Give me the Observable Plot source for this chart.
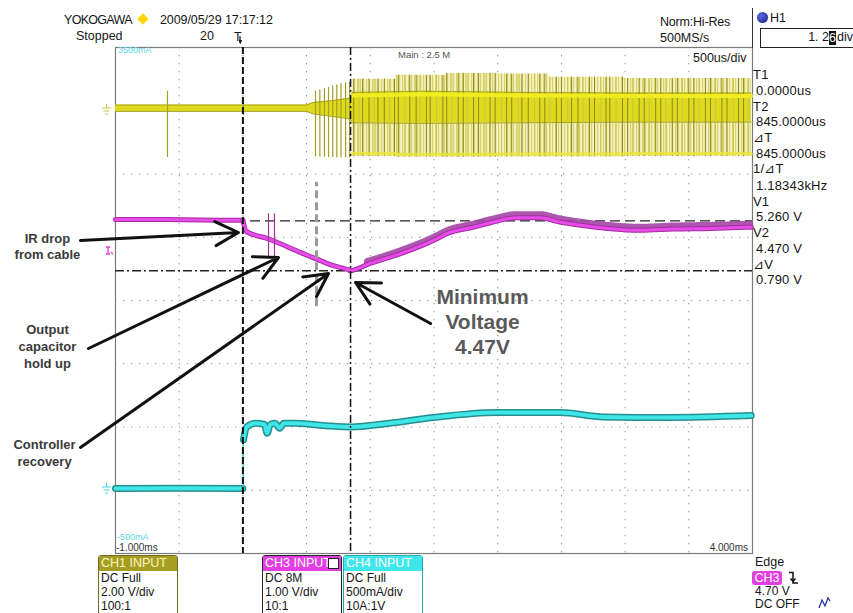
<!DOCTYPE html>
<html><head><meta charset="utf-8">
<script src="https://cdn.jsdelivr.net/npm/d3@7"></script>
<script src="https://cdn.jsdelivr.net/npm/@observablehq/plot@0.6"></script>
<style>
body{margin:0;background:#fff;font-family:"Liberation Sans",Arial,sans-serif;}
#wrap{position:relative;width:853px;height:613px;overflow:hidden;background:#fff;}
#wrap svg{position:absolute;left:0;top:0;}
.t{position:absolute;white-space:nowrap;line-height:1;color:#151515;font-size:12.5px;}
.box{position:absolute;border:1px solid #333;border-radius:3px;overflow:hidden;background:#fff;}
.box .hd{height:15px;line-height:15px;font-size:12.5px;padding-left:2px;color:#fff;position:relative;}
.box .ln{font-size:12px;line-height:14px;padding-left:2px;color:#151515;}
</style></head><body><div id="wrap"></div>
<script>
// ---------- data (time in ms, CH1/CH3 in volts, CH4 in amps) ----------
const gridTimes = [-0.5, 0, 0.5, 1, 1.5, 2, 2.5, 3, 3.5];
const gridDivs = [1, 2, 3, 4, 5, 6, 7];

// CH3 (magenta) output voltage, 1 V/div
const ch3PreTime = [-1.00, -0.60, -0.20, 0.00];
const ch3PreVolt = [5.28, 5.28, 5.27, 5.27];
const ch3Time = [0.00, 0.028, 0.193, 0.452, 0.609, 0.711, 0.821, 0.845, 0.868, 0.978, 1.237, 1.496, 1.606, 1.810, 1.943, 2.155, 2.336, 2.469, 2.650, 2.862, 3.121, 3.380, 3.670, 3.990];
const ch3Volt = [5.27, 5.09, 4.98, 4.76, 4.63, 4.55, 4.49, 4.47, 4.48, 4.57, 4.74, 4.95, 5.06, 5.16, 5.23, 5.31, 5.31, 5.25, 5.19, 5.14, 5.11, 5.13, 5.14, 5.16];
const ch3GlitchTime = [0.201, 0.248];
const ch3GlitchLo = 4.68, ch3GlitchHi = 5.37;

// CH4 (cyan) load current, 500 mA/div
const ch4PreTime = [-1.00, -0.50, 0.00];
const ch4PreAmp = [0.014, 0.016, 0.014];
const ch4Time = [0.005, 0.03, 0.10, 0.17, 0.19, 0.215, 0.25, 0.29, 0.32, 0.40, 0.65, 0.85, 1.15, 1.49, 1.99, 2.49, 2.83, 3.33, 3.99];
const ch4Amp = [0.40, 0.50, 0.53, 0.52, 0.45, 0.52, 0.53, 0.49, 0.53, 0.53, 0.51, 0.50, 0.53, 0.575, 0.615, 0.615, 0.58, 0.575, 0.59];

// CH1 (yellow) switching trace, 2 V/div: core band
const ch1BandTime = [-1.00, 0.50, 0.55, 0.70, 0.84, 0.86, 1.40, 2.20, 3.00, 3.99];
const ch1BandLo = [-0.02, -0.02, -0.10, -0.18, -0.26, -0.38, -0.40, -0.38, -0.36, -0.36];
const ch1BandHi = [0.18, 0.18, 0.26, 0.32, 0.40, 0.58, 0.62, 0.58, 0.56, 0.56];
// CH1 switching envelope (spike extents)
const ch1EnvTime = [0.86, 1.20, 1.60, 2.00, 2.40, 3.00, 3.99];
const ch1EnvHi = [1.00, 1.12, 1.18, 1.16, 1.06, 1.02, 1.02];
const ch1EnvLo = [-1.45, -1.47, -1.47, -1.46, -1.46, -1.45, -1.46];
// individual spikes
const ch1EarlySpikeTime = [-0.592, 0.005, 0.570, 0.604, 0.640, 0.672, 0.705, 0.737, 0.770, 0.806, 0.838];
const ch1EarlySpikeHi = [0.62, 0.35, 0.62, 0.66, 0.70, 0.74, 0.78, 0.82, 0.86, 0.88, 0.90];
const ch1EarlySpikeLo = [-1.48, -0.15, -1.45, -1.46, -1.47, -1.48, -1.48, -1.49, -1.49, -1.49, -1.50];
const ch1SpikeTime = [0.87, 0.91, 0.94, 0.99, 1.03, 1.06, 1.11, 1.15, 1.19, 1.22, 1.27, 1.31, 1.36, 1.39, 1.44, 1.47, 1.52, 1.57, 1.60, 1.64, 1.69, 1.73, 1.76, 1.81, 1.85, 1.90, 1.94, 1.98, 2.03, 2.07, 2.11, 2.16, 2.19, 2.24, 2.29, 2.33, 2.37, 2.41, 2.46, 2.50, 2.55, 2.58, 2.63, 2.67, 2.72, 2.76, 2.81, 2.85, 2.88, 2.93, 2.98, 3.02, 3.06, 3.11, 3.15, 3.19, 3.24, 3.28, 3.32, 3.37, 3.41, 3.45, 3.50, 3.54, 3.58, 3.63, 3.67, 3.71, 3.76, 3.80, 3.85, 3.89, 3.93, 3.97];

// cursors
const cursorT1 = 0, cursorT2 = 0.845;        // ms
const cursorV1 = 5.26, cursorV2 = 4.47;      // V (CH3)
const zoomMarker = {t: 0.578, lo: 3.90, hi: 5.87}; // divisions

// annotations (time ms, divisions)
const notes = [
  {t: -1.534, d: 4.87, text: "IR drop\nfrom cable", size: 13, lh: 1.25, color: "#3a3a3a"},
  {t: -1.534, d: 3.29, text: "Output\ncapacitor\nhold up", size: 13, lh: 1.3, color: "#3a3a3a"},
  {t: -1.557, d: 1.61, text: "Controller\nrecovery", size: 13, lh: 1.3, color: "#3a3a3a"},
  {t: 1.881, d: 3.68, text: "Minimum\nVoltage\n4.47V", size: 21, lh: 1.2, color: "#5a5a5a"}
];
const arrows = [
  {t1: -1.275, d1: 4.949, t2: -0.035, d2: 5.075},
  {t1: -1.212, d1: 3.241, t2: 0.279, d2: 4.680},
  {t1: -1.275, d1: 1.676, t2: 0.672, d2: 4.427},
  {t1: 1.473, d1: 3.636, t2: 0.884, d2: 4.285}
];

// ---------- channel -> screen divisions ----------
const div1 = v => v / 2 + 7;      // CH1: 2 V/div, ground at div 7
const div3 = v => v / 1;          // CH3: 1 V/div, ground at div 0
const div4 = a => a / 0.5 + 1;    // CH4: 500 mA/div, ground at div 1

const ch3Pre = ch3PreTime.map((t, i) => ({t, d: div3(ch3PreVolt[i])}));
const ch3 = ch3Time.map((t, i) => ({t, d: div3(ch3Volt[i])}));
const ch3Ripple = ch3.filter(p => p.t >= 0.87);
const ch4Pre = ch4PreTime.map((t, i) => ({t, d: div4(ch4PreAmp[i])}));
const ch4 = ch4Time.map((t, i) => ({t, d: div4(ch4Amp[i])}));
const ch1Band = ch1BandTime.map((t, i) => ({t, lo: div1(ch1BandLo[i]), hi: div1(ch1BandHi[i])}));
const ch1Env = ch1EnvTime.map((t, i) => ({t, lo: div1(ch1EnvLo[i]), hi: div1(ch1EnvHi[i])}));
const earlySpikes = ch1EarlySpikeTime.map((t, i) => ({t, lo: div1(ch1EarlySpikeLo[i]), hi: div1(ch1EarlySpikeHi[i])}));
const spikes = ch1SpikeTime.map((t, k) => {
  let i = 0; while (i + 1 < ch1EnvTime.length && ch1EnvTime[i + 1] <= t) i++;
  return {t, k, lo: div1(ch1EnvLo[i]), hi: div1(ch1EnvHi[i])};
});

const dotted = {stroke: "#8a8a8a", strokeWidth: 1, strokeDasharray: "1.3,6.7"};
const smooth = "monotone-x";

const plot = Plot.plot({
  width: 853, height: 613,
  marginLeft: 115, marginRight: 101, marginTop: 47, marginBottom: 60,
  x: {domain: [-1, 4], axis: null},
  y: {domain: [0, 8], axis: null},
  style: {background: "transparent", overflow: "visible"},
  marks: [
    Plot.ruleX(gridTimes, {x: d => d, ...dotted}),
    Plot.ruleY(gridDivs, {y: d => d, ...dotted}),
    Plot.frame({stroke: "#7a7a7a", strokeWidth: 1.2}),
    // CH1 yellow
    Plot.areaY(ch1Env, {x: "t", y1: "lo", y2: "hi", fill: "url(#ypat)", curve: "step-after"}),
    Plot.areaY(ch1Band, {x: "t", y1: "lo", y2: "hi", fill: "#dedb1e"}),
    Plot.line(ch1Band, {x: "t", y: "hi", stroke: "#a8a222", strokeWidth: 1}),
    Plot.line(ch1Band, {x: "t", y: "lo", stroke: "#a8a222", strokeWidth: 1}),
    Plot.ruleX(spikes, {x: "t", y1: "lo", y2: "hi", stroke: d => d.k % 3 === 1 ? "#c9c44a" : "#8e8820", strokeWidth: 1}),
    Plot.ruleX(earlySpikes, {x: "t", y1: "lo", y2: "hi", stroke: "#a39d22", strokeWidth: 1.2}),
    Plot.line(ch1Env, {x: "t", y: "lo", dy: -3, stroke: "#e9e53c", strokeWidth: 3, strokeOpacity: 0.85, curve: "step-after"}),
    Plot.line(ch1Band.filter(p => p.t >= 0.86), {x: "t", y: "hi", dy: 3, stroke: "#f0ec20", strokeWidth: 4}),
    // horizontal cursors
    Plot.ruleY([cursorV1], {y: d => div3(d), stroke: "#222", strokeWidth: 1.3, strokeDasharray: "10,5"}),
    Plot.ruleY([cursorV2], {y: d => div3(d), stroke: "#222", strokeWidth: 1.3, strokeDasharray: "9,3,2,3"}),
    // CH4 cyan
    Plot.line(ch4Pre, {x: "t", y: "d", stroke: "#23908f", strokeWidth: 7}),
    Plot.line(ch4Pre, {x: "t", y: "d", stroke: "#3fe6e8", strokeWidth: 4}),
    Plot.ruleX([0.003], {x: d => d, y1: div4(ch4PreAmp[2]), y2: div4(ch4Amp[0]), stroke: "#2fd0d0", strokeWidth: 1.5}),
    Plot.line(ch4, {x: "t", y: "d", stroke: "#23908f", strokeWidth: 7, curve: smooth}),
    Plot.line(ch4, {x: "t", y: "d", stroke: "#3fe6e8", strokeWidth: 4, curve: smooth}),
    // CH3 magenta
    Plot.line(ch3Ripple, {x: "t", y: "d", dy: -3, stroke: "#a444a4", strokeWidth: 7, strokeDasharray: "1,2", strokeOpacity: 0.9, curve: smooth}),
    Plot.line(ch3Pre, {x: "t", y: "d", stroke: "#a62aa6", strokeWidth: 5}),
    Plot.line(ch3Pre, {x: "t", y: "d", stroke: "#e64ce6", strokeWidth: 3}),
    Plot.line(ch3, {x: "t", y: "d", stroke: "#a62aa6", strokeWidth: 5, curve: smooth}),
    Plot.line(ch3, {x: "t", y: "d", stroke: "#e64ce6", strokeWidth: 3, curve: smooth}),
    Plot.ruleX(ch3GlitchTime, {x: d => d, y1: div3(ch3GlitchLo), y2: div3(ch3GlitchHi), stroke: "#a030a0", strokeWidth: 1.2}),
    // vertical cursors
    Plot.ruleX([cursorT1], {x: d => d, stroke: "#111", strokeWidth: 2, strokeDasharray: "7,3"}),
    Plot.ruleX([cursorT2], {x: d => d, stroke: "#111", strokeWidth: 1.5, strokeDasharray: "8,3,2,3"}),
    Plot.ruleX([zoomMarker], {x: "t", y1: "lo", y2: "hi", stroke: "#9a9a9a", strokeWidth: 3, strokeDasharray: "8,4"}),
    // annotations
    Plot.arrow(arrows, {x1: "t1", y1: "d1", x2: "t2", y2: "d2", stroke: "#111", strokeWidth: 3, headLength: 13, headAngle: 55}),
    ...notes.map(n => Plot.text([n], {x: "t", y: "d", text: "text", fontSize: n.size, lineHeight: n.lh, fill: n.color,
      fontWeight: "bold", fontFamily: "Liberation Sans, Arial, sans-serif", textAnchor: "middle", lineAnchor: "middle"}))
  ]
});

// pattern for the pale switching envelope
const NS = "http://www.w3.org/2000/svg";
const defs = document.createElementNS(NS, "defs");
const pat = document.createElementNS(NS, "pattern");
pat.setAttribute("id", "ypat"); pat.setAttribute("patternUnits", "userSpaceOnUse");
pat.setAttribute("width", "3"); pat.setAttribute("height", "8");
const r1 = document.createElementNS(NS, "rect"); r1.setAttribute("width", "3"); r1.setAttribute("height", "8"); r1.setAttribute("fill", "#f4f2c6");
const r2 = document.createElementNS(NS, "rect"); r2.setAttribute("width", "1.2"); r2.setAttribute("height", "8"); r2.setAttribute("fill", "#d9d466");
pat.appendChild(r1); pat.appendChild(r2); defs.appendChild(pat);
plot.insertBefore(defs, plot.firstChild);

const wrap = document.getElementById("wrap");
wrap.appendChild(plot);

// ---------- oscilloscope screen text ----------
function txt(x, cy, s, opt = {}) {
  const el = document.createElement("div");
  el.className = "t";
  el.textContent = s;
  const fs = opt.size || 12.5;
  el.style.fontSize = fs + "px";
  el.style.top = (cy - fs * 0.55) + "px";
  if (opt.right != null) el.style.right = (853 - opt.right) + "px"; else el.style.left = x + "px";
  if (opt.color) el.style.color = opt.color;
  if (opt.ls) el.style.letterSpacing = opt.ls + "px";
  if (opt.weight) el.style.fontWeight = opt.weight;
  wrap.appendChild(el);
  return el;
}
function html(s) { wrap.insertAdjacentHTML("beforeend", s); }

txt(64, 21, "YOKOGAWA", {size: 12.5, ls: -0.7});
html('<div style="position:absolute;left:139px;top:15px;width:8px;height:8px;background:#ffd600;transform:rotate(45deg)"></div>');
txt(160, 21, "2009/05/29 17:17:12", {size: 12.5, ls: -0.1});
txt(76, 37, "Stopped", {size: 12.5});
txt(200, 37, "20", {size: 12.5});
txt(234, 38, "T", {size: 12.5});
html('<svg style="position:absolute;left:239px;top:36px" width="6" height="8"><path d="M1 0V6M0 4L1.2 7L2.5 4" stroke="#111" fill="none" stroke-width="1.2"/></svg>');
txt(660, 23, "Norm:Hi-Res", {size: 12.5, ls: -0.2});
txt(660, 39, "500MS/s", {size: 12.5});
html('<div style="position:absolute;left:752px;top:8px;width:1px;height:40px;background:#333"></div>');
html('<div style="position:absolute;left:757px;top:12px;width:11px;height:11px;border-radius:50%;background:radial-gradient(circle at 35% 35%,#5a6ae0,#101a80)"></div>');
txt(770, 19, "H1", {size: 12.5});
html('<div style="position:absolute;left:760px;top:28px;width:95px;height:18px;border:1px solid #222;background:#fff"></div>');
txt(null, 38, "1. 2", {size: 12.5, right: 829});
html('<div style="position:absolute;left:829px;top:31px;width:7px;height:14px;background:#111;color:#fff;font-size:12.5px;line-height:14px;text-align:center">6</div>');
txt(837, 38, "div", {size: 12.5});

txt(693, 59, "500us/div", {size: 12.5});
txt(398, 55, "Main : 2.5 M", {size: 9.5, color: "#555"});
txt(118, 51, "3500mA", {size: 9, color: "#5ad6e6"});
txt(117, 538, "-500mA", {size: 9, color: "#5ad6e6"});
txt(116, 548, "-1.000ms", {size: 10, color: "#333"});
txt(null, 548, "4.000ms", {size: 10, color: "#333", right: 748});

// ground / trigger markers at the left edge
html('<svg style="position:absolute;left:101px;top:104px" width="12" height="12"><path d="M1 4H10M5.5 0V4M2.5 7H8.5M4 10H7" stroke="#c9c24e" stroke-width="1.2" fill="none"/></svg>');
html('<svg style="position:absolute;left:101px;top:483px" width="12" height="12"><path d="M1 4H10M5.5 0V4M2.5 7H8.5M4 10H7" stroke="#4ad2da" stroke-width="1.2" fill="none"/></svg>');
html('<svg style="position:absolute;left:105px;top:246px" width="10" height="10"><path d="M1 1H5M3 1V8H1M3 8H5M6 6L8 8" stroke="#e040e0" stroke-width="1.4" fill="none"/></svg>');

// right cursor panel
const panel = [["T1", 75], ["0.0000us", 91], ["T2", 107], ["845.0000us", 122], ["\u22BFT", 138], ["845.0000us", 154],
  ["1/\u22BFT", 169], ["1.18343kHz", 186], ["V1", 202], ["5.260 V", 217], ["V2", 233], ["4.470 V", 249], ["\u22BFV", 265], ["0.790 V", 280]];
panel.forEach(([s, y], i) => txt(i % 2 ? 756 : 753, y, s, {size: 13, ls: 0.2}));

// channel boxes
function chBox(left, width, bg, hdColor, border, lines, icon) {
  html(`<div class="box" style="left:${left}px;top:555px;width:${width}px;height:62px;border-color:${border}">
    <div class="hd" style="background:${bg};color:${hdColor}">${lines[0]}${icon ? '<span style="position:absolute;right:2px;top:2px;width:9px;height:9px;background:#fff;border:1px solid #222"></span>' : ''}</div>
    <div class="ln">${lines[1]}</div><div class="ln">${lines[2]}</div><div class="ln">${lines[3]}</div></div>`);
}
chBox(98, 78, "#a59e22", "#faf6c0", "#6e6a20", ["CH1 INPUT", "DC Full", "2.00 V/div", "100:1"], false);
chBox(262, 78, "#e23ee2", "#fff", "#222", ["CH3 INPUT", "DC 8M", "1.00 V/div", "10:1"], true);
chBox(343, 78, "#3fe6ec", "#fff", "#2aa", ["CH4 INPUT", "DC Full", "500mA/div", "10A:1V"], false);

txt(755, 563, "Edge", {size: 12.5});
html('<div style="position:absolute;left:752px;top:571px;width:30px;height:14px;border-radius:3px;background:#e23ee2;color:#fff;font-size:12.5px;line-height:14px;text-align:center">CH3</div>');
html('<svg style="position:absolute;left:788px;top:571px" width="12" height="14"><path d="M1 1.5H5V12H10M2.5 7.5L5 10.5L7.5 7.5" stroke="#111" stroke-width="1.5" fill="none"/></svg>');
txt(755, 592, "4.70 V", {size: 12});
txt(755, 605, "DC OFF", {size: 12});
html('<svg style="position:absolute;left:818px;top:597px" width="14" height="12"><path d="M1 11L4 3L7 9L10 1L12 4" stroke="#2030a0" stroke-width="1.3" fill="none"/></svg>');
</script></body></html>
